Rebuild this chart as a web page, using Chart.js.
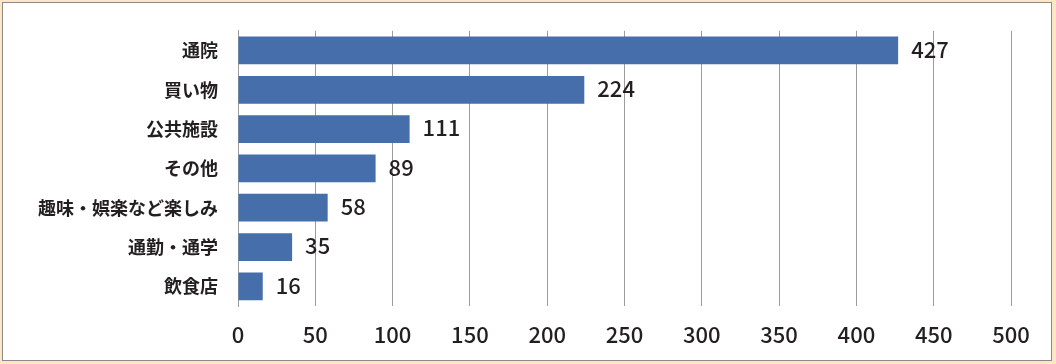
<!DOCTYPE html>
<html>
<head>
<meta charset="utf-8">
<script src="https://cdn.jsdelivr.net/npm/chart.js@4/dist/chart.umd.min.js"></script>
<style>
  html, body { margin: 0; padding: 0; }
  body { width: 1056px; height: 364px; background: #fde6c6; position: relative; overflow: hidden; }
  #frame { position: absolute; left: 2px; top: 2px; width: 1048px; height: 357px; background: #fff; border: 1px solid #8a8a8a; }
  #wrap { position: absolute; left: 0; top: 0; width: 1056px; height: 364px; }
</style>
</head>
<body>
<div id="frame"></div>
<div id="wrap"><canvas id="c" width="1056" height="364"></canvas></div>
<script>
const categories = ['通院', '買い物', '公共施設', 'その他', '趣味・娯楽など楽しみ', '通勤・通学', '飲食店'];
const counts = [427, 224, 111, 89, 58, 35, 16];
const xTicks = [0, 50, 100, 150, 200, 250, 300, 350, 400, 450, 500];

const TEXT = '#231f20';
const GRID = '#9c9c9c';

const valueLabels = {
  id: 'valueLabels',
  afterDatasetsDraw(chart) {
    const ctx = chart.ctx;
    const meta = chart.getDatasetMeta(0);
    ctx.save();
    ctx.font = '500 22px "Noto Sans CJK JP", "Noto Sans", sans-serif';
    ctx.fillStyle = TEXT;
    ctx.textAlign = 'left';
    ctx.textBaseline = 'middle';
    meta.data.forEach((bar, i) => {
      ctx.fillText(String(chart.data.datasets[0].data[i]), bar.x + 13, bar.y - 1);
    });
    ctx.restore();
  }
};

new Chart(document.getElementById('c'), {
  type: 'bar',
  data: {
    labels: categories,
    datasets: [{
      data: counts,
      backgroundColor: '#456eab',
      borderWidth: 0,
      barPercentage: 0.85,
      categoryPercentage: 0.83
    }]
  },
  plugins: [valueLabels],
  options: {
    indexAxis: 'y',
    responsive: false,
    animation: false,
    layout: { padding: { top: 29, right: 45, left: 0, bottom: 0 } },
    plugins: { legend: { display: false }, tooltip: { enabled: false } },
    scales: {
      x: {
        min: 0,
        max: 500,
        afterBuildTicks(scale) { scale.ticks = xTicks.map(v => ({ value: v })); },
        afterFit(scale) { scale.height = 58; },
        grid: { color: GRID, lineWidth: 1, drawTicks: false },
        border: { display: false },
        ticks: {
          padding: 15,
          color: TEXT,
          font: { family: '"Noto Sans CJK JP", "Noto Sans", sans-serif', size: 22, weight: '500' }
        }
      },
      y: {
        afterFit(scale) { scale.width = 238; },
        grid: { display: false, drawTicks: false },
        border: { display: true, color: GRID, width: 1 },
        ticks: {
          padding: 20,
          color: TEXT,
          font: { family: '"Noto Sans CJK JP", sans-serif', size: 18, weight: 'bold' }
        }
      }
    }
  }
});
</script>
</body>
</html>
